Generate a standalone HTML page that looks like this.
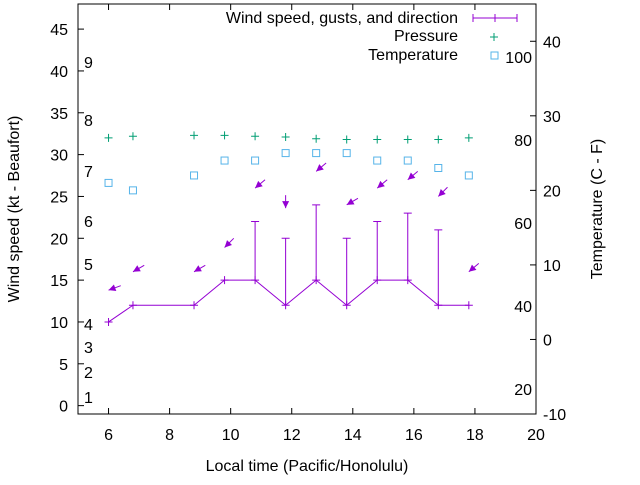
<!DOCTYPE html>
<html><head><meta charset="utf-8"><style>
body{margin:0;background:#fff}
svg text{font-family:"Liberation Sans",sans-serif;font-size:16px;fill:#000}
</style></head><body>
<svg id="chart" width="640" height="480" xmlns="http://www.w3.org/2000/svg"></svg>
<script>
const hours=[6,6.8,8.8,9.8,10.8,11.8,12.8,13.8,14.8,15.8,16.8,17.8];
const windSpeed=[10,12,12,15,15,12,15,12,15,15,12,12];
const gusts=[null,null,null,null,22,20,24,20,22,23,21,null];
const pressure=[32.0,32.2,32.3,32.3,32.2,32.1,31.9,31.8,31.8,31.8,31.8,32.0];
const temperature=[21,20,22,24,24,25,25,25,24,24,23,22];
const arrowLevel=[13.8,16,16,18.9,26,23.6,28,24,26,27,25,16];
const windDir=[70,60,60,45,50,0,50,60,50,50,45,50];
const xTicks=[6,8,10,12,14,16,18,20];
const yTicks=[0,5,10,15,20,25,30,35,40,45];
const y2Ticks=[-10,0,10,20,30,40];
const beaufort=[[1,397],[2,372],[3,347],[4,324],[5,264],[6,221],[7,171],[8,120],[9,62]];
const fahr=[[20,389],[40,306],[60,223],[80,140],[100,57]];
const L=78,R=536,T=4,B=414;
const X=v=>L+(v-5)/(20-5)*(R-L);
const Y=v=>B-(v+1)/(48+1)*(B-T);
const Y2=v=>B-(v+10)/(45+10)*(B-T);
const svg=document.getElementById('chart');
const NS='http://www.w3.org/2000/svg';
function mk(tag,attrs,parent){const e=document.createElementNS(NS,tag);for(const k in attrs)e.setAttribute(k,attrs[k]);(parent||svg).appendChild(e);return e;}
function txt(x,y,s,anchor,extra){const t=mk('text',Object.assign({x:x,y:y,'text-anchor':anchor||'start'},extra||{}));t.textContent=s;return t;}
const P='#9400d3',G='#009e73',C='#56b4e9';
// frame
const frame=mk('rect',{x:L,y:T,width:R-L,height:B-T,fill:'none',stroke:'#000','stroke-width':1});


xTicks.forEach(v=>{const x=X(v);
 const l=mk('path',{d:`M${x},${B}v-6M${x},${T}v6`,stroke:'#000'});
 
 
 const t=txt(x,B+26,String(v),'middle');
 
 });
yTicks.forEach(v=>{const y=Y(v);
 const l=mk('path',{d:`M${L},${y}h6`,stroke:'#000'});
 
 
 const t=txt(L-10,y+6,String(v),'end');
 
 });
y2Ticks.forEach(v=>{const y=Y2(v);
 const l=mk('path',{d:`M${R},${y}h-6`,stroke:'#000'});
 
 
 const t=txt(R+7,y+6,String(v),'start');
 
 });
beaufort.forEach(([v,y])=>{const t=txt(84,y+6,String(v),'start');
 
 });
fahr.forEach(([v,y])=>{const t=txt(532,y+6,String(v),'end');
 
 });
// axis titles
const xt=txt((L+R)/2,471,'Local time (Pacific/Honolulu)','middle');


const yt=txt(0,0,'Wind speed (kt - Beaufort)','middle',{transform:`translate(19,${(T+B)/2}) rotate(-90)`});


const y2t=txt(0,0,'Temperature (C - F)','middle',{transform:`translate(602,${(T+B)/2}) rotate(-90)`});


// wind line
const wl=mk('polyline',{points:hours.map((h,i)=>X(h)+','+Y(windSpeed[i])).join(' '),fill:'none',stroke:P,'stroke-width':1});


hours.forEach((h,i)=>{const x=X(h),y=Y(windSpeed[i]);
 const m=mk('path',{d:`M${x-4},${y}h8M${x},${y-4}v8`,stroke:P});
 
 
 if(gusts[i]!=null){const g=Y(gusts[i]);
  const e=mk('path',{d:`M${x},${y}V${g}M${x-4},${g}h8`,stroke:P});
  
  }
 const ay=Y(arrowLevel[i]);const a=windDir[i]*Math.PI/180;
 const dx=Math.sin(a)*13,dy=Math.cos(a)*13;
 const ar=mk('g',{});
 
 
 mk('line',{x1:x+dx,y1:ay-dy,x2:x,y2:ay,stroke:P},ar);
 const ux=-dx/13,uy=dy/13,px=-uy,py=ux;
 mk('polygon',{points:`${x},${ay} ${x-ux*7+px*3.5},${ay-uy*7+py*3.5} ${x-ux*7-px*3.5},${ay-uy*7-py*3.5}`,fill:P},ar);
 const pp=Y(pressure[i]);
 const pm=mk('path',{d:`M${x-4},${pp}h8M${x},${pp-4}v8`,stroke:G});
 
 
 const ty=Y2(temperature[i]);
 const tm=mk('rect',{x:x-3.5,y:ty-3.5,width:7,height:7,fill:'none',stroke:C});
 
 
});
// legend
const lg=mk('g',{});


const l1=txt(458,23,'Wind speed, gusts, and direction','end');


mk('path',{d:'M473,18h44M473,14v8M517,14v8M495,14v8',stroke:P},lg);
const l2=txt(458,41,'Pressure','end');


mk('path',{d:'M490,37h8M494,33v8',stroke:G},lg);
const l3=txt(458,60,'Temperature','end');


mk('rect',{x:491,y:52,width:7,height:7,fill:'none',stroke:C},lg);
</script>
</body></html>
